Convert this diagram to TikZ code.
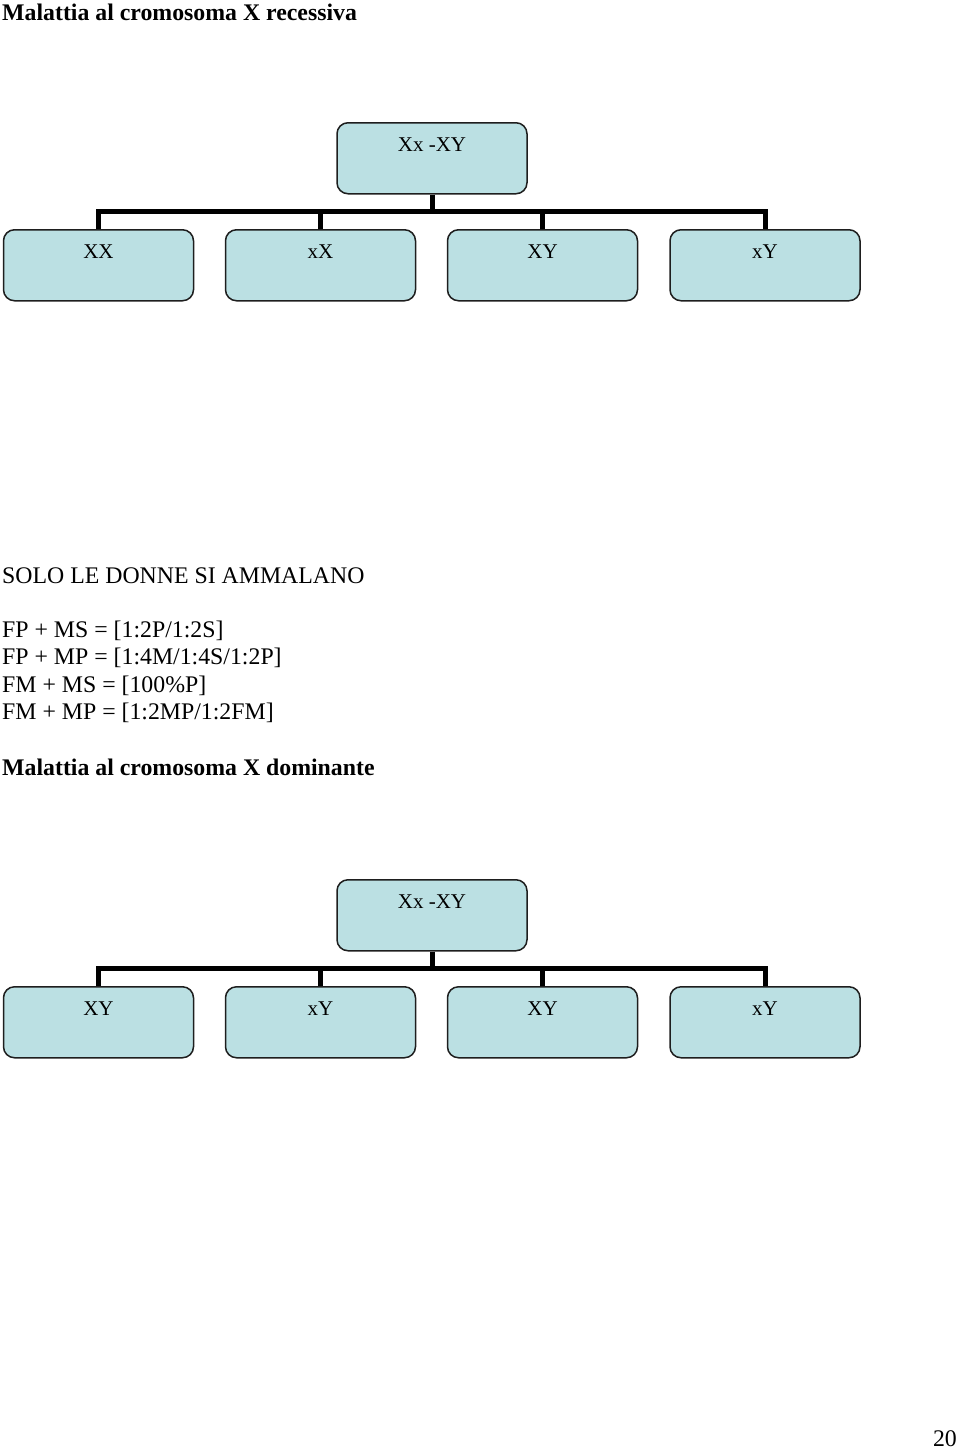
\documentclass[tikz,border=0pt]{standalone}
\usepackage{fontspec}
\setmainfont{Liberation Serif}
\definecolor{boxfill}{RGB}{187,224,227}
\definecolor{boxline}{RGB}{30,30,30}
\tikzset{
  gbox/.style={draw=boxline, line width=1.5pt, fill=boxfill, rounded corners=11pt,
    minimum width=190pt, inner xsep=0pt, inner ysep=0pt,
    text height=29pt, text depth=42pt, font=\fontsize{21}{25}\selectfont},
  bus/.style={line width=5pt, draw=black},
  txt/.style={anchor=base west, inner sep=0pt, font=\fontsize{23.8}{27}\selectfont},
  ttl/.style={txt, font=\fontsize{23.8}{27}\selectfont\bfseries}
}
\begin{document}
\begin{tikzpicture}[x=1pt,y=-1pt]
\useasboundingbox (0,0) rectangle (960,1451);
% titles and text
\node[ttl] (t1) at (2,20) {Malattia al cromosoma X recessiva};
\node[txt] (s1) at (2,583) {SOLO LE DONNE SI AMMALANO};
\node[txt] (l1) at (2,637) {FP + MS = [1:2P/1:2S]};
\node[txt] (l2) at (2,664) {FP + MP = [1:4M/1:4S/1:2P]};
\node[txt] (l3) at (2,692) {FM + MS = [100\%P]};
\node[txt] (l4) at (2,719) {FM + MP = [1:2MP/1:2FM]};
\node[ttl] (t2) at (2,775) {Malattia al cromosoma X dominante};
\node[txt, anchor=base east] (pg) at (957,1446) {20};
% first diagram
\node[gbox, anchor=north] (p1) at (432,122) {Xx -XY};
\node[gbox, anchor=north] (a1) at (98.5,229) {XX};
\node[gbox, anchor=north] (a2) at (320.5,229) {xX};
\node[gbox, anchor=north] (a3) at (542.5,229) {XY};
\node[gbox, anchor=north] (a4) at (765,229) {xY};
\coordinate (j1) at (432,211);
\draw[bus] (p1.south) -- (j1);
\draw[bus] (a1.north) |- (j1) -| (a4.north);
\draw[bus] (a2.north) -- (a2.north |- j1);
\draw[bus] (a3.north) -- (a3.north |- j1);
% second diagram
\node[gbox, anchor=north] (p2) at (432,879) {Xx -XY};
\node[gbox, anchor=north] (b1) at (98.5,986) {XY};
\node[gbox, anchor=north] (b2) at (320.5,986) {xY};
\node[gbox, anchor=north] (b3) at (542.5,986) {XY};
\node[gbox, anchor=north] (b4) at (765,986) {xY};
\coordinate (j2) at (432,968);
\draw[bus] (p2.south) -- (j2);
\draw[bus] (b1.north) |- (j2) -| (b4.north);
\draw[bus] (b2.north) -- (b2.north |- j2);
\draw[bus] (b3.north) -- (b3.north |- j2);
\end{tikzpicture}
\end{document}
